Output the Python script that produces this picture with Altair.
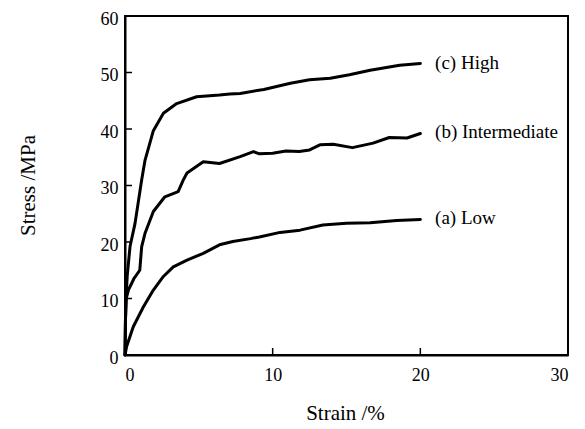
import altair as alt
import pandas as pd

# --- data ---
series_names = ["(c) High", "(b) Intermediate", "(a) Low"]

high_strain = [0, 0.03, 0.08, 0.15, 0.34, 0.68, 1.13, 1.35, 1.92, 2.6, 3.5, 4.85, 6.4, 7.1, 7.8,
               9.4, 11.2, 12.5, 13.9, 15.2, 16.6, 17.3, 18.6, 20.0]
high_stress = [0, 6, 10.5, 14, 19.2, 23.3, 31.0, 34.4, 39.7, 42.8, 44.5, 45.7, 46.0, 46.2, 46.3,
               47.0, 48.1, 48.7, 49.0, 49.6, 50.4, 50.7, 51.3, 51.6]

mid_strain = [0, 0.03, 0.08, 0.23, 0.6, 1.0, 1.13, 1.35, 1.92, 2.7, 3.6, 3.95, 4.2, 5.3, 6.4, 7.8,
              8.7, 9.1, 10.0, 10.9, 11.8, 12.5, 13.2, 14.1, 15.4, 16.8, 17.9, 19.1, 20.0]
mid_stress = [0, 6, 10, 11.5, 13.5, 15, 19.2, 21.5, 25.4, 28.0, 28.9, 31.0, 32.2, 34.2, 33.9, 35.1,
              36.0, 35.6, 35.7, 36.1, 36.0, 36.3, 37.2, 37.3, 36.7, 37.5, 38.5, 38.4, 39.2]

low_strain = [0, 0.11, 0.56, 1.24, 1.92, 2.6, 3.27, 4.2, 5.3, 6.4, 7.3, 8.5, 9.1, 10.5, 11.85,
              13.4, 15.0, 16.6, 18.4, 20.0]
low_stress = [0, 1.5, 5.0, 8.5, 11.5, 13.9, 15.6, 16.8, 18.0, 19.5, 20.1, 20.6, 20.9, 21.7, 22.1,
              23.0, 23.3, 23.4, 23.8, 24.0]

label_x = [21.0, 21.0, 21.0]
label_y = [51.7, 39.5, 24.2]

x_tick_values = [10, 20]
y_tick_values = [10, 20, 30, 40, 50]
x_label_values = [0, 10, 20, 30]
y_label_values = [0, 10, 20, 30, 40, 50, 60]

# --- build tables ---
rows = []
for name, xs, ys in zip(series_names,
                        [high_strain, mid_strain, low_strain],
                        [high_stress, mid_stress, low_stress]):
    for i, (x, y) in enumerate(zip(xs, ys)):
        rows.append({"series": name, "strain": x, "stress": y, "order": i})
df = pd.DataFrame(rows)

labels_df = pd.DataFrame({"strain": label_x, "stress": label_y, "text": series_names})
xt_df = pd.DataFrame({"strain": x_tick_values})
yt_df = pd.DataFrame({"stress": y_tick_values})

W, H = 443, 339
FONT = "Liberation Serif"

x_scale = alt.Scale(domain=[0, 30], nice=False, zero=False)
y_scale = alt.Scale(domain=[0, 60], nice=False, zero=False)

x_axis = alt.Axis(values=x_label_values, title="Strain /%",
                  labelPadding=11, titleX=220, titleY=58,
                  titleBaseline="middle", titleAlign="center")
y_axis = alt.Axis(values=y_label_values, title="Stress /MPa",
                  labelPadding=7, labelOffset=3, titleX=-97, titleY=169,
                  titleAngle=270, titleBaseline="middle", titleAlign="center")

X = alt.X("strain:Q", scale=x_scale, axis=x_axis, title="Strain /%")
Y = alt.Y("stress:Q", scale=y_scale, axis=y_axis, title="Stress /MPa")

lines = alt.Chart(df).mark_line(
    color="black", strokeWidth=3, strokeJoin="round", strokeCap="round"
).encode(
    x=X, y=Y,
    detail="series:N",
    order="order:Q",
)

xticks = alt.Chart(xt_df).mark_rule(color="black", strokeWidth=1.5).encode(
    x=X,
    y=alt.value(H),
    y2=alt.value(H - 7),
)

yticks = alt.Chart(yt_df).mark_rule(color="black", strokeWidth=1.5).encode(
    y=Y,
    x=alt.value(0),
    x2=alt.value(7),
)

labels = alt.Chart(labels_df).mark_text(
    align="left", baseline="middle", font=FONT, fontSize=19, color="black"
).encode(
    x=X, y=Y,
    text="text:N",
)

chart = alt.layer(lines, xticks, yticks, labels).properties(
    width=W, height=H,
    autosize=alt.AutoSizeParams(type="none"),
    padding={"left": 117, "top": 8, "right": 9, "bottom": 72},
    background="white",
).configure_view(
    stroke="black", strokeWidth=2
).configure_axis(
    grid=False, ticks=False, domainColor="black", domainWidth=2,
    labelFont=FONT, labelFontSize=18, labelColor="black",
    titleFont=FONT, titleFontSize=21, titleFontWeight="normal", titleColor="black",
)

chart.save("out.html", embed_options={"renderer": "svg", "actions": False})
